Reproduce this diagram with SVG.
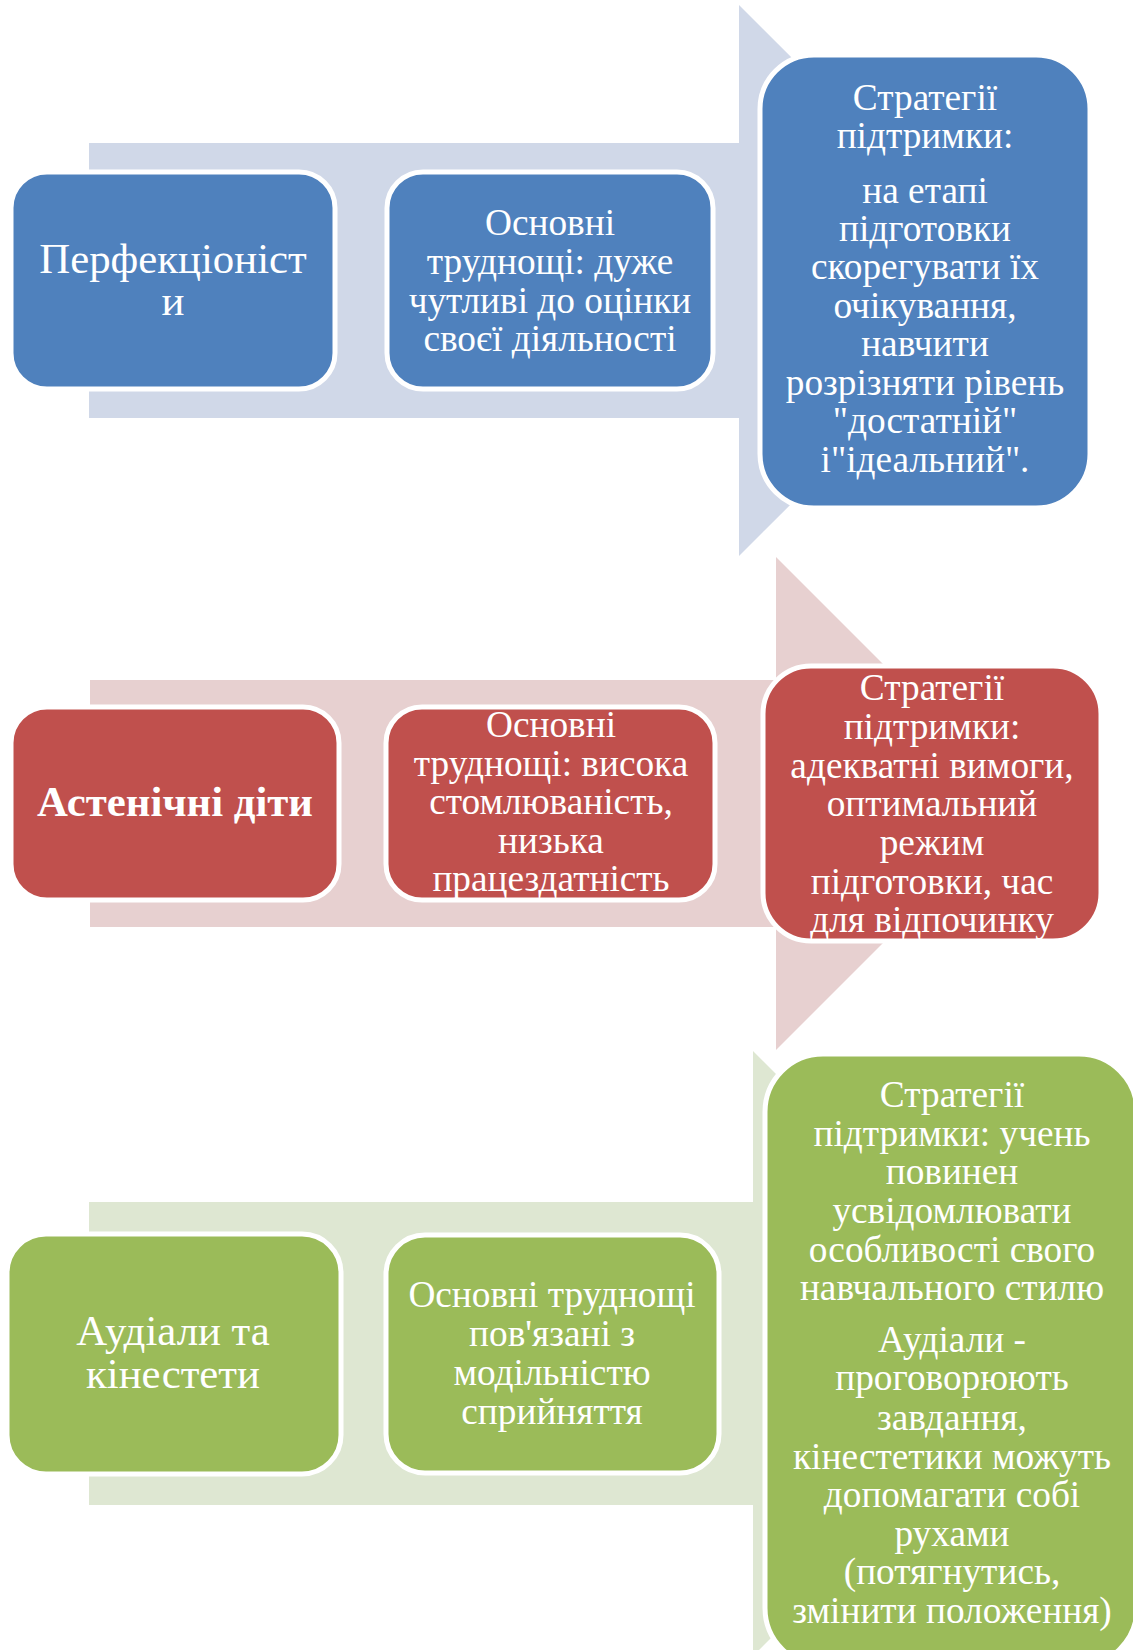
<svg xmlns="http://www.w3.org/2000/svg" width="1133" height="1650" viewBox="0 0 1133 1650">
<style>
.box{stroke:#fff;stroke-width:5}
.blue{fill:#4F81BD}.red{fill:#C0504D}.green{fill:#9BBB59}
.ab{fill:#D0D8E8}.ar{fill:#E7D0D0}.ag{fill:#DEE7D2}
text{font-family:"Liberation Serif","Times New Roman",serif;fill:#fff;text-anchor:middle}
.big{font-size:42.8px}
.mid{font-size:37.3px}
.bold{font-weight:bold}
</style>
<rect width="1133" height="1650" fill="#fff"/>
<g id="connectors">
<polygon class="ab" points="89,143 739,143 739,5 1015,280.5 739,556 739,418 89,418"/>
<polygon class="ar" points="90,680 776,680 776,557 1022.5,803.5 776,1050 776,927 90,927"/>
<polygon class="ag" points="89,1202 753,1202 753,1051 1055.5,1353.5 753,1656 753,1505 89,1505"/>
</g>
<g id="perfectionists">
<rect class="box blue" x="11" y="172" width="324" height="217" rx="36"/>
<text class="big" x="173" y="273">Перфекціоніст</text>
<text class="big" x="173" y="315">и</text>
</g>
<g id="perfectionists-difficulties">
<rect class="box blue" x="387" y="172" width="326" height="217" rx="36"/>
<text class="mid" x="550" y="235">Основні</text>
<text class="mid" x="550" y="274">труднощі: дуже</text>
<text class="mid" x="550" y="313">чутливі до оцінки</text>
<text class="mid" x="550" y="351">своєї діяльності</text>
</g>
<g id="perfectionists-strategies">
<rect class="box blue" x="760" y="55" width="330" height="453" rx="54"/>
<text class="mid" x="925" y="110">Стратегії</text>
<text class="mid" x="925" y="148">підтримки:</text>
<text class="mid" x="925" y="203">на етапі</text>
<text class="mid" x="925" y="241">підготовки</text>
<text class="mid" x="925" y="279">скорегувати їх</text>
<text class="mid" x="925" y="318">очікування,</text>
<text class="mid" x="925" y="356">навчити</text>
<text class="mid" x="925" y="395">розрізняти рівень</text>
<text class="mid" x="925" y="433">"достатній"</text>
<text class="mid" x="925" y="472">і"ідеальний".</text>
</g>
<g id="asthenic">
<rect class="box red" x="11" y="707" width="328" height="193" rx="36"/>
<text class="big bold" x="175" y="816">Астенічні діти</text>
</g>
<g id="asthenic-difficulties">
<rect class="box red" x="386" y="707" width="329" height="193" rx="36"/>
<text class="mid" x="551" y="737">Основні</text>
<text class="mid" x="551" y="775.5">труднощі: висока</text>
<text class="mid" x="551" y="814">стомлюваність,</text>
<text class="mid" x="551" y="852.5">низька</text>
<text class="mid" x="551" y="891">працездатність</text>
</g>
<g id="asthenic-strategies">
<rect class="box red" x="763" y="666" width="338" height="275" rx="48"/>
<text class="mid" x="932" y="700">Стратегії</text>
<text class="mid" x="932" y="739">підтримки:</text>
<text class="mid" x="932" y="777.5">адекватні вимоги,</text>
<text class="mid" x="932" y="816">оптимальний</text>
<text class="mid" x="932" y="855">режим</text>
<text class="mid" x="932" y="893.5">підготовки, час</text>
<text class="mid" x="932" y="932">для відпочинку</text>
</g>
<g id="audials">
<rect class="box green" x="7" y="1234" width="334" height="240" rx="39"/>
<text class="big" x="173" y="1345">Аудіали та</text>
<text class="big" x="173" y="1388">кінестети</text>
</g>
<g id="audials-difficulties">
<rect class="box green" x="386" y="1235" width="333" height="238" rx="39"/>
<text class="mid" x="552" y="1307">Основні труднощі</text>
<text class="mid" x="552" y="1346">пов'язані з</text>
<text class="mid" x="552" y="1385">модільністю</text>
<text class="mid" x="552" y="1424">сприйняття</text>
</g>
<g id="audials-strategies">
<rect class="box green" x="765" y="1054" width="372" height="612" rx="58"/>
<text class="mid" x="952" y="1107">Стратегії</text>
<text class="mid" x="952" y="1145.7">підтримки: учень</text>
<text class="mid" x="952" y="1184.4">повинен</text>
<text class="mid" x="952" y="1223">усвідомлювати</text>
<text class="mid" x="952" y="1261.7">особливості свого</text>
<text class="mid" x="952" y="1300.4">навчального стилю</text>
<text class="mid" x="952" y="1351.5">Аудіали -</text>
<text class="mid" x="952" y="1390">проговорюють</text>
<text class="mid" x="952" y="1429.5">завдання,</text>
<text class="mid" x="952" y="1468.5">кінестетики можуть</text>
<text class="mid" x="952" y="1507">допомагати собі</text>
<text class="mid" x="952" y="1545.5">рухами</text>
<text class="mid" x="952" y="1584">(потягнутись,</text>
<text class="mid" x="952" y="1623">змінити положення)</text>
</g>
</svg>
